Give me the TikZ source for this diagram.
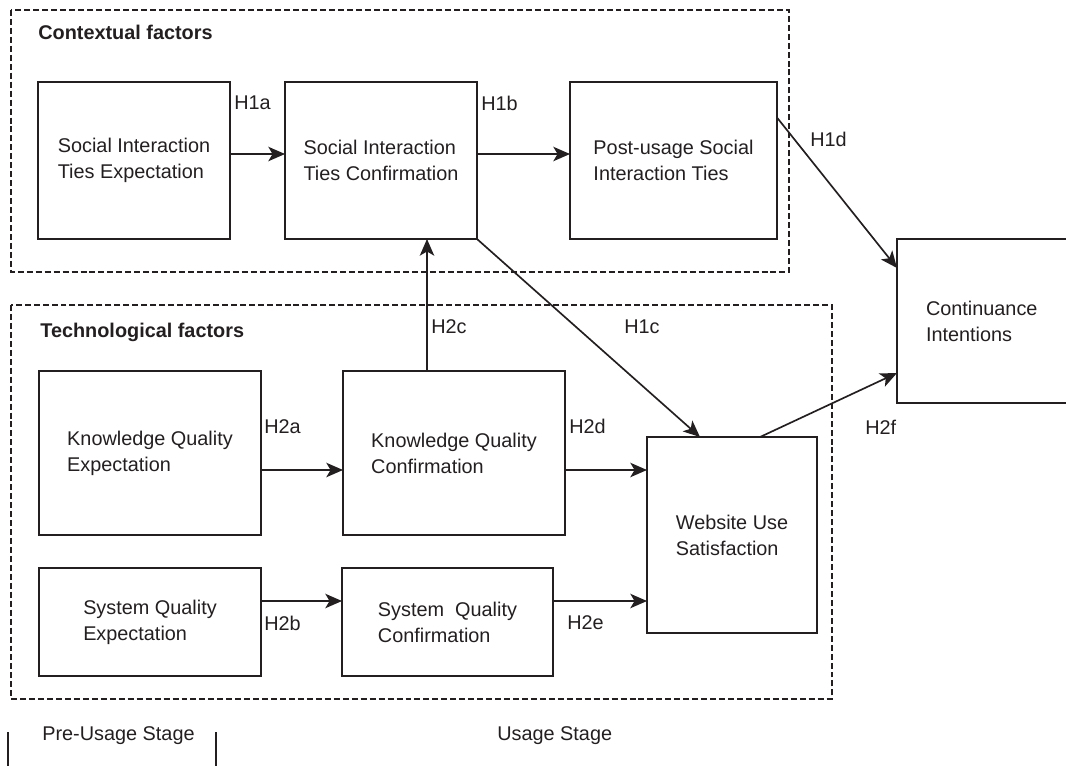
\documentclass[tikz,border=0pt]{standalone}
\usepackage{fontspec}
\setsansfont{Liberation Sans}
\usepackage{tikz}
\usetikzlibrary{arrows.meta,positioning}
\definecolor{ink}{HTML}{231F20}
\tikzstyle{block} = [rectangle,draw=ink,line width=1.1pt,inner sep=0pt,outer sep=0pt,
  align=left,text=ink,font=\sffamily\fontsize{11.3}{14.8}\selectfont]
\tikzstyle{group} = [draw=ink,line width=0.6pt,dash pattern=on 3.4pt off 1.7pt]
\tikzstyle{hyp} = [anchor=west,inner sep=0pt,text=ink,font=\sffamily\fontsize{11.3}{14.8}\selectfont]
\tikzstyle{title} = [anchor=base west,inner sep=0pt,text=ink,font=\sffamily\bfseries\fontsize{11.3}{14.8}\selectfont]
\tikzstyle{arr} = [draw=ink,line width=0.95pt,-{Stealth[length=9.5pt,width=8.2pt,inset=2.4pt]}]

\begin{document}
\begin{tikzpicture}[x=0.02cm,y=-0.02cm]
\clip (0,0) rectangle (1066,765);

% factor groups
\draw[group] (11,10) rectangle (789,272);
\draw[group] (11,305) rectangle (832,699);
\node[title] (ctx) at (38,39) {Contextual factors};
\node[title] (tech) at (40,337) {Technological factors};

% constructs
\node[block,minimum width=3.84cm,minimum height=3.14cm] (sie) at (134,160.5)
  {Social Interaction\\Ties Expectation};
\node[block,minimum width=3.84cm,minimum height=3.14cm] (sic) at (381,160.5)
  {Social Interaction\\Ties Confirmation};
\node[block,minimum width=4.14cm,minimum height=3.14cm] (psi) at (673.5,160.5)
  {Post-usage Social\\Interaction Ties};
\node[block,minimum width=4.44cm,minimum height=3.28cm] (kqe) at (150,453)
  {Knowledge Quality\\Expectation};
\node[block,minimum width=4.44cm,minimum height=3.28cm] (kqc) at (454,453)
  {Knowledge Quality\\Confirmation};
\node[block,minimum width=4.44cm,minimum height=2.16cm] (sqe) at (150,622)
  {System Quality\\Expectation};
\node[block,minimum width=4.22cm,minimum height=2.16cm] (sqc) at (447.5,622)
  {System~ Quality\\Confirmation};
\node[block,minimum width=3.4cm,minimum height=3.92cm] (wus) at (732,535)
  {Website Use\\Satisfaction};
\node[block,minimum width=4.06cm,minimum height=3.28cm,text width=2.9cm] (ci) at (998.5,321)
  {Continuance\\Intentions};

% paths
\draw[arr] ([yshift=0.13cm]sie.east) -- ([yshift=0.13cm]sic.west);
\draw[arr] ([yshift=0.13cm]sic.east) -- ([yshift=0.13cm]psi.west);
\draw[arr] ([yshift=-0.34cm]kqe.east) -- ([yshift=-0.34cm]kqc.west);
\coordinate (kqout) at ([yshift=-0.34cm]kqc.east);
\draw[arr] (kqout) -- (kqout -| wus.west);
\draw[arr] ([yshift=0.42cm]sqe.east) -- ([yshift=0.42cm]sqc.west);
\coordinate (sqout) at ([yshift=0.42cm]sqc.east);
\draw[arr] (sqout) -- (sqout -| wus.west);
\coordinate (kqup) at ([xshift=-0.54cm]kqc.north);
\draw[arr] (kqup) -- (kqup |- sic.south);
\draw[arr] (sic.south east) -- ([xshift=-0.64cm]wus.north);
\draw[arr] ([yshift=0.86cm]psi.east) -- ([yshift=1.06cm]ci.west);
\draw[arr] ([xshift=0.56cm]wus.north) -- ([yshift=-1.04cm]ci.west);

% hypotheses
\node[hyp] (h1a) at (234,103) {H1a};
\node[hyp] (h1b) at (481,103) {H1b};
\node[hyp] (h1c) at (624,327) {H1c};
\node[hyp] (h1d) at (810,139) {H1d};
\node[hyp] (h2a) at (264,427) {H2a};
\node[hyp] (h2b) at (264,623) {H2b};
\node[hyp] (h2c) at (431,327) {H2c};
\node[hyp] (h2d) at (569,426) {H2d};
\node[hyp] (h2e) at (567,623) {H2e};
\node[hyp] (h2f) at (865,427) {H2f};

% stages
\node[hyp,anchor=base west] (pre) at (42,740) {Pre-Usage Stage};
\node[hyp,anchor=base west] (use) at (497,740) {Usage Stage};
\coordinate (s1) at (8,732);
\coordinate (s2) at (216,732);
\draw[draw=ink,line width=0.8pt] (s1) -- (s1 |- 0,780);
\draw[draw=ink,line width=0.8pt] (s2) -- (s2 |- 0,780);
\end{tikzpicture}
\end{document}
